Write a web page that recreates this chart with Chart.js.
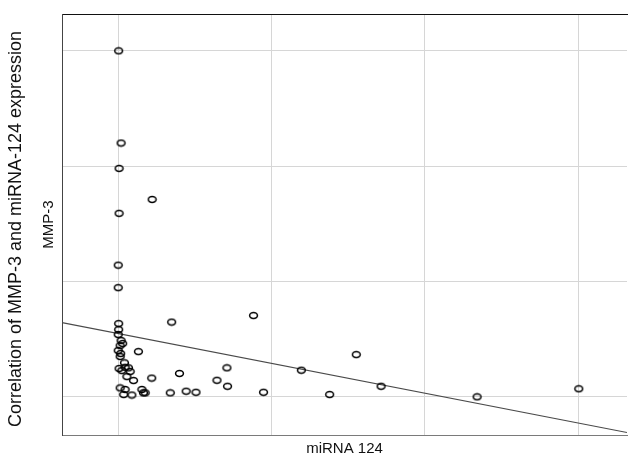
<!DOCTYPE html>
<html>
<head>
<meta charset="utf-8">
<script src="https://cdn.jsdelivr.net/npm/chart.js@4/dist/chart.umd.min.js"></script>
<style>
  html, body { margin: 0; padding: 0; background: #fff; }
</style>
</head>
<body>
<canvas id="chart" width="628" height="458"></canvas>
<script>
// miRNA 124 (x) and MMP-3 (y) values
const mirnaValues = [
    0.000, 0.016, 0.003, 0.219, 0.003, -0.003, -0.003, 0.346, 0.881, 0.000,
    0.000, -0.003, 0.016, 0.026, 0.010, -0.003, 0.013, 0.010, 0.129, 0.038,
    0.003, 0.042, 0.064, 0.021, 0.075, 0.054, 0.097, 0.216, 0.010, 0.042,
    0.033, 0.086, 0.152, 0.162, 0.173, 0.337, 0.397, 0.441, 0.505, 0.642,
    0.707, 0.711, 0.946, 1.193, 1.378, 1.552, 1.714, 2.341, 3.005
];
const mmpValues = [
    3.000, 2.200, 1.980, 1.710, 1.590, 1.140, 0.945, 0.646, 0.703, 0.633,
    0.581, 0.538, 0.486, 0.460, 0.442, 0.399, 0.373, 0.347, 0.390, 0.292,
    0.243, 0.254, 0.249, 0.225, 0.217, 0.173, 0.139, 0.160, 0.075, 0.061,
    0.017, 0.013, 0.061, 0.032, 0.032, 0.032, 0.200, 0.046, 0.037, 0.141,
    0.249, 0.089, 0.037, 0.228, 0.017, 0.364, 0.089, -0.003, 0.067
];

// gridline positions and axis ranges
const gridTicks = [0, 1, 2, 3];
const xRange = [-0.37, 3.32];
const yRange = [-0.334, 3.32];

// fitted line
const fitSlope = -0.2585;
const fitIntercept = 0.546;

const FONT = "'Liberation Sans', Arial, sans-serif";

// open ellipse marker like the original
function makeMarker() {
    const c = document.createElement('canvas');
    c.width = 11;
    c.height = 9;
    const g = c.getContext('2d');
    g.strokeStyle = '#000';
    g.lineWidth = 1.5;
    g.beginPath();
    g.ellipse(5.5, 4.5, 3.9, 2.9, 0, 0, Math.PI * 2);
    g.stroke();
    return c;
}

const points = mirnaValues.map((x, i) => ({ x: x, y: mmpValues[i] }));
const fitLine = xRange.map(x => ({ x: x, y: fitIntercept + fitSlope * x }));

function useGridTicks(axis) {
    axis.ticks = gridTicks.map(v => ({ value: v }));
}

const ctx = document.getElementById('chart').getContext('2d');
new Chart(ctx, {
    type: 'scatter',
    data: {
        datasets: [
            {
                label: 'MMP-3',
                data: points,
                pointStyle: makeMarker(),
                pointRadius: 4
            },
            {
                type: 'line',
                label: 'Fit',
                data: fitLine,
                borderColor: '#4a4a4a',
                borderWidth: 1.2,
                pointRadius: 0,
                fill: false
            }
        ]
    },
    options: {
        responsive: false,
        animation: false,
        layout: { autoPadding: false, padding: { top: 0, right: 1, bottom: 0, left: 0 } },
        plugins: {
            legend: { display: false },
            tooltip: { enabled: false },
            title: {
                display: true,
                position: 'left',
                text: 'Correlation of MMP-3 and miRNA-124 expression',
                color: '#111',
                font: { family: FONT, size: 18, weight: 'normal' },
                padding: { top: 5, bottom: 4 }
            }
        },
        scales: {
            x: {
                type: 'linear',
                position: 'bottom',
                min: xRange[0],
                max: xRange[1],
                afterBuildTicks: useGridTicks,
                ticks: { display: false },
                grid: { color: '#d6d6d6', drawTicks: false },
                border: { color: '#7a7a7a', width: 1 },
                title: {
                    display: true,
                    text: 'miRNA 124',
                    color: '#111',
                    font: { family: FONT, size: 15 },
                    padding: { top: 5, bottom: 0 }
                }
            },
            xTop: {
                type: 'linear',
                position: 'top',
                min: xRange[0],
                max: xRange[1],
                ticks: { display: false },
                grid: { display: false, drawTicks: false },
                border: { color: '#111', width: 1 },
                title: {
                    display: true,
                    text: '',
                    font: { size: 1, lineHeight: 1 },
                    padding: { top: 13, bottom: 0 }
                }
            },
            y: {
                type: 'linear',
                min: yRange[0],
                max: yRange[1],
                afterBuildTicks: useGridTicks,
                ticks: { display: false },
                grid: { color: '#d6d6d6', drawTicks: false },
                border: { color: '#444', width: 1 },
                title: {
                    display: true,
                    text: 'MMP-3',
                    color: '#111',
                    font: { family: FONT, size: 15 },
                    padding: { top: 9.4, bottom: 4 }
                }
            }
        }
    }
});
</script>
</body>
</html>
